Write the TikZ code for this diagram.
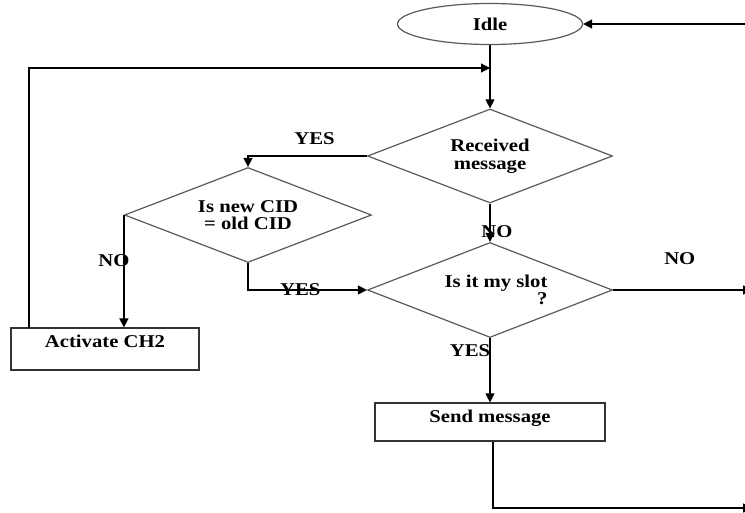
\documentclass[tikz,border=0pt]{standalone}
\usepackage{fontspec}
\setmainfont{Liberation Serif}[FakeStretch=1.15]
\usetikzlibrary{shapes.geometric,arrows.meta}

\begin{document}
\begin{tikzpicture}[
        x=0.5pt, y=-0.5pt,
        font=\fontsize{9}{8.8}\selectfont\bfseries,
        >={Triangle[length=4.5pt,width=4.5pt]},
        line width=0.6pt,
        state/.style={
            ellipse, draw=black!65, inner sep=0pt,
            minimum width=92.5pt, minimum height=20.5pt
        },
        decision/.style={
            diamond, draw=black!65, aspect=2.6, inner sep=0pt,
            minimum width=122.5pt, minimum height=47pt, align=center
        },
        process/.style={
            rectangle, draw=black!80, inner sep=0pt
        },
        flow/.style={->, black}
    ]
        \useasboundingbox (0,0) rectangle (745,513);
        \clip (0,0) rectangle (745,513);

        % Estado Idle
        \node[state] (idle) at (490,24) {Idle};

        % Decision mensaje recibido
        \node[decision] (recv) at (490,156) {Received\\message};

        % Decision CID
        \node[decision, minimum width=123.5pt, minimum height=47.5pt] (cid) at (248,215) {Is new CID\\= old CID};

        % Decision slot
        \node[decision, minimum height=47.5pt, align=right] (slot) at (490,290) {\hspace*{6pt}Is it my slot\\?};

        % Proceso Activate CH2
        \node[process, minimum width=94pt, minimum height=21pt,
            label={[anchor=north]north:Activate CH2}] (ch2) at (105,349) {};

        % Proceso Send message
        \node[process, minimum width=115pt, minimum height=19pt,
            label={[anchor=north]north:Send message}] (send) at (490,422) {};

        % Puntos de borde
        \coordinate (backIdle) at (752,24);
        \coordinate (backSlot) at (752,290);
        \coordinate (backSend) at (752,508);
        \coordinate (join) at (490,68);
        \coordinate (loopStart) at (29,328);

        % Relaciones
        \draw[flow] (backIdle) -- (idle.east);
        \draw[flow] (idle.south) -- (recv.north);
        \draw[flow] (loopStart) |- (join);
        \draw[flow] (recv.west) -| (cid.north) node[pos=0.22, above=2pt] {YES};
        \draw[flow] (recv.south) -- (slot.north) node[pos=0.72, xshift=3.5pt] {NO};
        \draw[flow] (cid.south) |- (slot.west) node[pos=0.72] {YES};
        \draw[flow] (cid.west) -- (cid.west |- ch2.north) node[pos=0.41, xshift=-5pt] {NO};
        \draw[flow] (slot.east) -- (backSlot) node[pos=0.48, above=9pt] {NO};
        \draw[flow] (slot.south) -- (send.north) node[pos=0.2, xshift=-10pt] {YES};
        \draw[flow] ([xshift=1.5pt]send.south) |- (backSend);

    \end{tikzpicture}
\end{document}
